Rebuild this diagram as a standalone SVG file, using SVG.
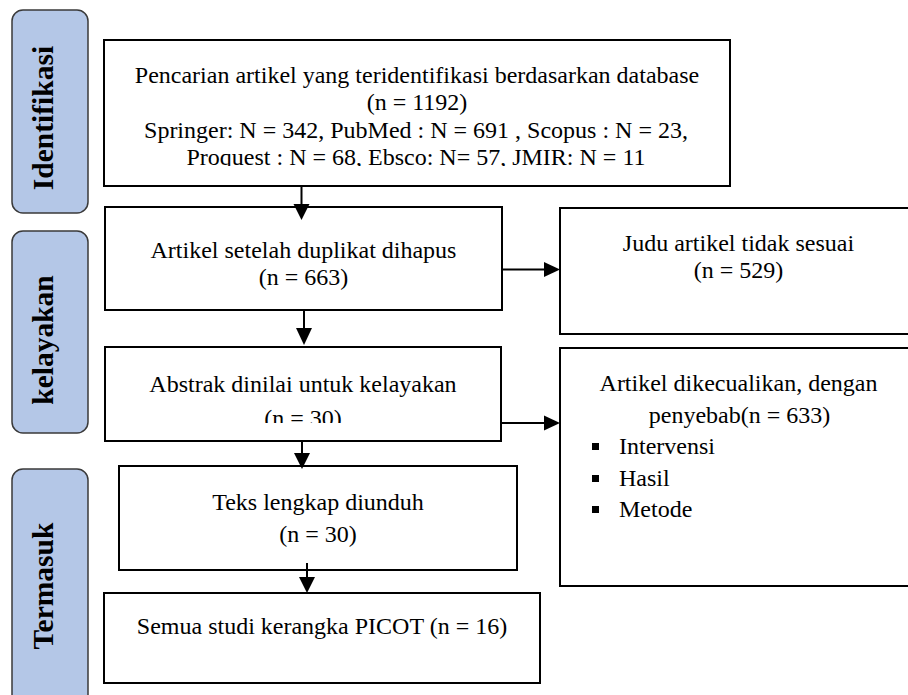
<svg xmlns="http://www.w3.org/2000/svg" width="908" height="695" viewBox="0 0 908 695">
<style>
.box{fill:#fff;stroke:#000;stroke-width:2}
.lab{fill:#b4c7e7;stroke:#3a3a3a;stroke-width:1.5}
.t{font-family:"Liberation Serif","Times New Roman",serif;font-size:24px;fill:#000}
.c{text-anchor:middle}
.lt{font-family:"Liberation Serif","Times New Roman",serif;font-size:29.5px;font-weight:bold;fill:#000;text-anchor:middle}
.ln{stroke:#000;stroke-width:2;fill:none}
.ah{fill:#000}
</style>
<defs>
<clipPath id="c1"><rect x="104" y="40" width="626" height="126"/></clipPath>
<clipPath id="c2"><rect x="105" y="347" width="396" height="76"/></clipPath>
</defs>
<rect width="908" height="695" fill="#fff"/>
<g id="lab-identifikasi">
<rect class="lab" x="12" y="10" width="76" height="203" rx="11"/>
<text class="lt" transform="translate(53,118) rotate(-90)">Identifikasi</text>
</g>
<g id="lab-kelayakan">
<rect class="lab" x="12" y="231" width="76" height="202" rx="11"/>
<text class="lt" transform="translate(53,340) rotate(-90)">kelayakan</text>
</g>
<g id="lab-termasuk">
<rect class="lab" x="12" y="469" width="76" height="240" rx="11"/>
<text class="lt" transform="translate(53,586) rotate(-90)">Termasuk</text>
</g>
<g id="n-search">
<rect class="box" x="104" y="40" width="626" height="146"/>
<g clip-path="url(#c1)">
<text class="t c" x="417" y="83">Pencarian artikel yang teridentifikasi berdasarkan database</text>
<text class="t c" x="417" y="110">(n = 1192)</text>
<text class="t c" x="416" y="138">Springer: N = 342, PubMed : N = 691 , Scopus : N = 23,</text>
<text class="t c" x="416" y="165">Proquest : N = 68, Ebsco: N= 57, JMIR: N = 11</text>
</g>
</g>
<g id="n-dedup">
<rect class="box" x="105" y="207" width="397" height="103"/>
<text class="t c" x="303.5" y="258">Artikel setelah duplikat dihapus</text>
<text class="t c" x="303.5" y="285">(n = 663)</text>
</g>
<g id="n-title">
<rect class="box" x="560" y="208" width="357" height="126"/>
<text class="t c" x="738.5" y="251">Judu artikel tidak sesuai</text>
<text class="t c" x="738.5" y="278">(n = 529)</text>
</g>
<g id="n-abstract">
<rect class="box" x="105" y="347" width="396" height="94"/>
<g clip-path="url(#c2)">
<text class="t c" x="303" y="392">Abstrak dinilai untuk kelayakan</text>
<text class="t c" x="303" y="426">(n = 30)</text>
</g>
</g>
<g id="n-excluded">
<rect class="box" x="560" y="348" width="357" height="238"/>
<text class="t c" x="738.5" y="391">Artikel dikecualikan, dengan</text>
<text class="t c" x="739.5" y="423">penyebab(n = 633)</text>
<rect x="592" y="443" width="7" height="7" fill="#000"/>
<text class="t" x="619" y="454">Intervensi</text>
<rect x="592" y="475" width="7" height="7" fill="#000"/>
<text class="t" x="619" y="486">Hasil</text>
<rect x="592" y="506" width="7" height="7" fill="#000"/>
<text class="t" x="619" y="517">Metode</text>
</g>
<g id="n-fulltext">
<rect class="box" x="119" y="466" width="398" height="104"/>
<text class="t c" x="318" y="510">Teks lengkap diunduh</text>
<text class="t c" x="318" y="542">(n = 30)</text>
</g>
<g id="n-final">
<rect class="box" x="104" y="593" width="436" height="90"/>
<text class="t c" x="322" y="634">Semua studi kerangka PICOT (n = 16)</text>
</g>
<g id="connectors">
<line class="ln" x1="301.5" y1="187" x2="301.5" y2="205"/>
<polygon class="ah" points="293.5,204 309.5,204 301.5,220"/>
<line class="ln" x1="304" y1="310" x2="304" y2="329"/>
<polygon class="ah" points="296,328 312,328 304,345"/>
<line class="ln" x1="302" y1="441" x2="302" y2="454"/>
<polygon class="ah" points="294,453 310,453 302,469"/>
<line class="ln" x1="307" y1="563" x2="307" y2="578"/>
<polygon class="ah" points="299,577 315,577 307,593"/>
<line class="ln" x1="502" y1="269.5" x2="545" y2="269.5"/>
<polygon class="ah" points="544,262 560,269.5 544,277"/>
<line class="ln" x1="501" y1="423" x2="545" y2="423"/>
<polygon class="ah" points="544,415.5 560,423 544,430.5"/>
</g>
</svg>
